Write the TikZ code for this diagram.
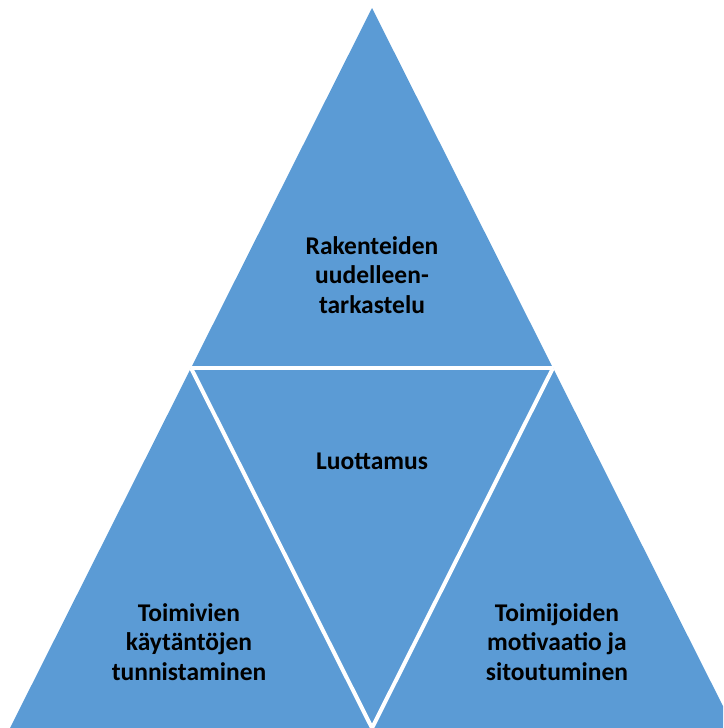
\documentclass[tikz,border=0pt]{standalone}
\usepackage{fontspec}
\setmainfont{Carlito}
\definecolor{triblue}{HTML}{5B9BD5}
\tikzset{
  lbl/.style={align=center, font=\fontsize{25.5}{29.5}\selectfont\bfseries, text=black, inner sep=0pt},
  gap/.style={draw=white, line width=4pt}
}
\begin{document}
\begin{tikzpicture}[x=1pt,y=-1pt]
\useasboundingbox (0,0) rectangle (723,728);
\clip (0,0) rectangle (723,728);
\coordinate (apex) at (372,8);
\coordinate (bl) at (10,728);
\coordinate (br) at (734,728);
\coordinate (ml) at (191,368);
\coordinate (mr) at (553,368);
\coordinate (mb) at (372,728);
\fill[triblue] (apex) -- (bl) -- (br) -- cycle;
\draw[gap] (ml) -- (mr);
\draw[gap] (ml) -- (mb) -- (mr);
\node[lbl] (top) at (372,275) {Rakenteiden\\uudelleen-\\tarkastelu};
\node[lbl] (mid) at (372,461) {Luottamus};
\node[lbl] (left) at (189,642) {Toimivien\\käytäntöjen\\tunnistaminen};
\node[lbl] (right) at (557,642) {Toimijoiden\\motivaatio ja\\sitoutuminen};
\end{tikzpicture}
\end{document}
